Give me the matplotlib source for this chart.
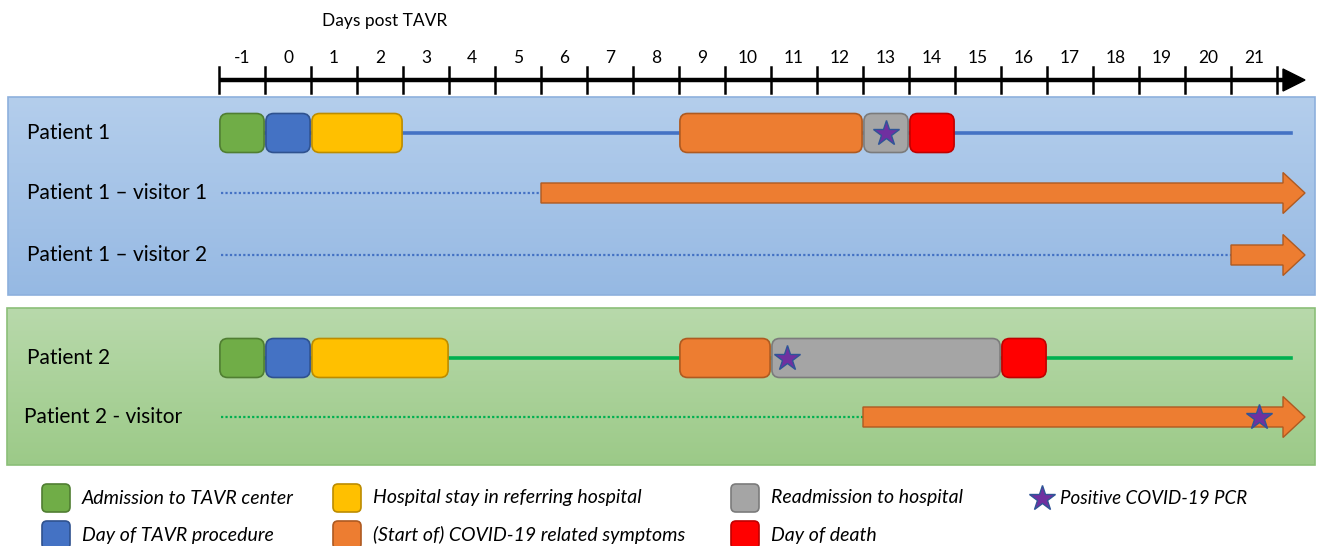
import numpy as np
import matplotlib
matplotlib.use('Agg')
import matplotlib.pyplot as plt
from matplotlib.patches import FancyBboxPatch, FancyArrow, Rectangle, Polygon

plt.rcParams['font.family'] = ['Lato', 'DejaVu Sans']

W, H = 1317, 546

# ---- data ----
day_labels = list(range(-1, 22))
categories = ['Admission to TAVR center', 'Day of TAVR procedure',
              'Hospital stay in referring hospital',
              '(Start of) COVID-19 related symptoms',
              'Readmission to hospital', 'Day of death']
cat_colors = ['#70AD47', '#4472C4', '#FFC000', '#ED7D31', '#A5A5A5', '#FF0000']
cat_edges = ['#507E32', '#2F528F', '#BC8C00', '#AE5A21', '#7B7B7B', '#C00000']
pcr_label = 'Positive COVID-19 PCR'

p1_start = [-1, 0, 1, 9, 13, 14]
p1_end = [-1, 0, 2, 12, 13, 14]
p1_cat = [0, 1, 2, 3, 4, 5]
p1_pcr = [13]

p2_start = [-1, 0, 1, 9, 11, 16]
p2_end = [-1, 0, 3, 10, 15, 16]
p2_cat = [0, 1, 2, 3, 4, 5]
p2_pcr = [10.85]

visitor_names = ['Patient 1 \u2013 visitor 1', 'Patient 1 \u2013 visitor 2', 'Patient 2 - visitor']
visitor_onset = [6, 21, 13]
visitor_pcr = [[], [], [21.1]]
followup_end = 21.8

# ---- layout (pixels) ----
DAY_PX = 46.0
DAY0_PX = 288.0
row_y = {'p1': 133, 'v1': 193, 'v2': 255, 'p2': 358, 'v3': 417}
axis_y = 80
box_h = 39


def px_to_day(px):
    return (px - DAY0_PX) / DAY_PX


fig = plt.figure(figsize=(W / 100, H / 100), dpi=100)

bg = fig.add_axes([0, 0, 1, 1])
bg.set_xlim(0, W)
bg.set_ylim(H, 0)
bg.axis('off')

ax = fig.add_axes([0, 0, 1, 1])
ax.set_xlim(px_to_day(0), px_to_day(W))
ax.set_ylim(H, 0)
ax.axis('off')
ax.patch.set_alpha(0)


def panel(x0, y0, x1, y1, top, bottom, edge):
    c0 = np.array(matplotlib.colors.to_rgb(top))
    c1 = np.array(matplotlib.colors.to_rgb(bottom))
    t = np.linspace(0, 1, 100)[:, None, None]
    img = c0 + (c1 - c0) * t
    bg.imshow(img, extent=(x0, x1, y1, y0), aspect='auto', zorder=0)
    bg.add_patch(Rectangle((x0, y0), x1 - x0, y1 - y0, fill=False,
                           ec=edge, lw=1.2, zorder=1))


panel(8, 97, 1315, 295, '#B4CEEC', '#96B9E3', '#8DB0DD')
panel(7, 308, 1315, 465, '#B8D9AB', '#9CCA88', '#8BBF78')

# ---- time axis ----
ax.plot([-1.5, 21.7], [axis_y, axis_y], color='black', lw=3.2,
        solid_capstyle='butt', zorder=3)
tip = px_to_day(1305)
base = px_to_day(1283)
ax.add_patch(Polygon([[base, axis_y - 11], [tip, axis_y], [base, axis_y + 11]],
                     closed=True, fc='black', ec='black', zorder=3))
for b in np.arange(-1.5, 22, 1.0):
    ax.plot([b, b], [67, 93], color='black', lw=1.8, zorder=3)
for d in day_labels:
    ax.text(d, 58, str(d), ha='center', va='center', fontsize=12.5, zorder=3)
ax.text(px_to_day(385), 21, 'Days post TAVR', ha='center', va='center',
        fontsize=12.5, zorder=3)


def boxes(starts, ends, cats, y):
    for s, e, c in zip(starts, ends, cats):
        ax.add_patch(FancyBboxPatch((s - 0.5 + 0.02, y - box_h / 2),
                                    e - s + 1 - 0.04, box_h,
                                    boxstyle='round,pad=0,rounding_size=0.17',
                                    mutation_aspect=DAY_PX, fc=cat_colors[c],
                                    ec=cat_edges[c], lw=1.2, zorder=4))


def stars(xs, y):
    ax.plot(xs, [y] * len(xs), ls='none', marker='*', ms=19, mfc='#7030A0',
            mec='#2F5597', mew=1.0, zorder=6)


# patient 1
ax.plot([-1.3, followup_end], [row_y['p1']] * 2, color='#4472C4', lw=2.6, zorder=2)
boxes(p1_start, p1_end, p1_cat, row_y['p1'])
stars(p1_pcr, row_y['p1'])

# patient 2
ax.plot([-1.3, followup_end], [row_y['p2']] * 2, color='#00B050', lw=2.6, zorder=2)
boxes(p2_start, p2_end, p2_cat, row_y['p2'])
stars(p2_pcr, row_y['p2'])

# visitors
vis_rows = ['v1', 'v2', 'v3']
vis_line = ['#4472C4', '#4472C4', '#00B050']
for name, onset, pcr, r, lc in zip(visitor_names, visitor_onset, visitor_pcr,
                                   vis_rows, vis_line):
    y = row_y[r]
    x0 = onset - 0.5
    ax.plot([-1.45, x0], [y, y], color=lc, lw=1.6, ls=(0, (1, 1)), zorder=2)
    ax.add_patch(FancyArrow(x0, y, tip - x0, 0, width=20, head_width=41,
                            head_length=tip - base, length_includes_head=True,
                            fc='#ED7D31', ec='#AE5A21', lw=1.0, zorder=4))
    if pcr:
        stars(pcr, y)

# row labels
labels = ['Patient 1'] + visitor_names[:2] + ['Patient 2', visitor_names[2]]
label_x = [27, 27, 27, 27, 24]
for lab, r, lx in zip(labels, ['p1', 'v1', 'v2', 'p2', 'v3'], label_x):
    bg.text(lx, row_y[r], lab, ha='left', va='center', fontsize=15, zorder=5)

# ---- legend ----
leg_col_x = [42, 333, 731]
leg_row_y = [498, 535]
for i, (name, fc, ec) in enumerate(zip(categories, cat_colors, cat_edges)):
    cx = leg_col_x[i // 2]
    cy = leg_row_y[i % 2]
    bg.add_patch(FancyBboxPatch((cx, cy - 14), 28, 28,
                                boxstyle='round,pad=0,rounding_size=5',
                                fc=fc, ec=ec, lw=1.2, zorder=5))
    bg.text(cx + 40, cy, name, ha='left', va='center', fontsize=14,
            style='italic', zorder=5)
bg.plot([1042], [leg_row_y[0]], ls='none', marker='*', ms=19, mfc='#7030A0',
        mec='#2F5597', mew=1.0, zorder=6)
bg.text(1060, leg_row_y[0], pcr_label, ha='left', va='center', fontsize=13.5,
        style='italic', zorder=5)

fig.savefig('out.png', dpi=100)
